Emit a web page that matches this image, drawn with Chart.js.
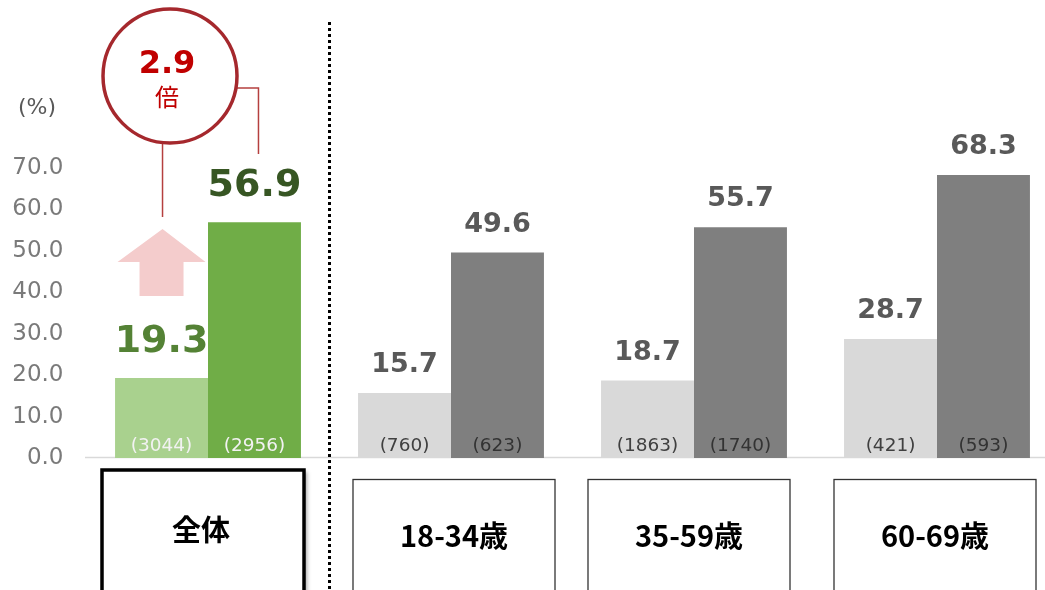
<!DOCTYPE html>
<html><head><meta charset="utf-8">
<script src="https://cdn.jsdelivr.net/npm/chart.js@4"></script>
<style>
html,body{margin:0;padding:0;background:#fff;overflow:hidden;width:1045px;height:590px}
#wrap{width:1045px;height:590px;overflow:hidden;position:relative}
canvas{display:block}
</style></head><body>
<div id="wrap"><canvas id="c" width="1060" height="590"></canvas></div>
<script>
const categories = ['全体', '18-34歳', '35-59歳', '60-69歳'];
const lowValues  = [19.3, 15.7, 18.7, 28.7];
const highValues = [56.9, 49.6, 55.7, 68.3];
const lowCounts  = ['(3044)', '(760)', '(1863)', '(421)'];
const highCounts = ['(2956)', '(623)', '(1740)', '(593)'];
const ratioText = '2.9';
const ratioUnit = '倍';
const yUnit = '(%)';

const lowColors  = ['#a9d18e', '#d9d9d9', '#d9d9d9', '#d9d9d9'];
const highColors = ['#70ad47', '#7f7f7f', '#7f7f7f', '#7f7f7f'];
const lowLabelColors  = ['#548235', '#595959', '#595959', '#595959'];
const highLabelColors = ['#375623', '#595959', '#595959', '#595959'];
const countColors = ['#f2f2f2', '#404040', '#333333', '#333333'];

const deco = {
  id: 'deco',
  beforeDatasetsDraw(chart) {
    const ctx = chart.ctx;
    const y0 = chart.scales.y.getPixelForValue(0);
    ctx.save();
    ctx.strokeStyle = '#d9d9d9';
    ctx.lineWidth = 1.5;
    ctx.beginPath();
    ctx.moveTo(85, y0 - 0.5);
    ctx.lineTo(1060, y0 - 0.5);
    ctx.stroke();
    ctx.restore();
  },
  afterDraw(chart) {
    const ctx = chart.ctx;
    const xs = chart.scales.x;
    const m0 = chart.getDatasetMeta(0).data;
    const m1 = chart.getDatasetMeta(1).data;
    ctx.save();
    ctx.textAlign = 'center';
    ctx.textBaseline = 'alphabetic';
    // value labels
    categories.forEach((c, i) => {
      const b0 = m0[i], b1 = m1[i];
      const big = i === 0;
      ctx.font = big ? 'bold 38px "DejaVu Sans"' : 'bold 27px "DejaVu Sans"';
      const gap = big ? 26 : 21;
      ctx.fillStyle = lowLabelColors[i];
      ctx.fillText(lowValues[i].toFixed(1), b0.x, b0.y - gap);
      ctx.fillStyle = highLabelColors[i];
      ctx.fillText(highValues[i].toFixed(1), b1.x, b1.y - gap);
      // counts
      ctx.font = '18.5px "DejaVu Sans"';
      const by = chart.scales.y.getPixelForValue(0) - 7;
      ctx.fillStyle = i === 0 ? countColors[0] : countColors[1];
      ctx.fillText(lowCounts[i], b0.x, by);
      ctx.fillStyle = i === 0 ? countColors[0] : countColors[2];
      ctx.fillText(highCounts[i], b1.x, by);
    });
    // dotted separator
    const sepX = (xs.getPixelForValue(0) + xs.getPixelForValue(1)) / 2;
    ctx.strokeStyle = '#000';
    ctx.lineWidth = 3;
    ctx.setLineDash([3, 3]);
    ctx.beginPath();
    ctx.moveTo(sepX, 22);
    ctx.lineTo(sepX, 590);
    ctx.stroke();
    ctx.setLineDash([]);
    // category boxes
    const boxShift = [-5, 3, -5, -2];
    categories.forEach((c, i) => {
      const cx = xs.getPixelForValue(i) + boxShift[i];
      const w = 202;
      if (i === 0) {
        ctx.save();
        ctx.shadowColor = 'rgba(0,0,0,0.35)';
        ctx.shadowBlur = 4;
        ctx.shadowOffsetX = 3;
        ctx.shadowOffsetY = 2;
        ctx.fillStyle = '#fff';
        ctx.fillRect(cx - w / 2, 470, w, 140);
        ctx.restore();
        ctx.strokeStyle = '#000';
        ctx.lineWidth = 3.5;
        ctx.strokeRect(cx - w / 2, 470, w, 140);
        ctx.fillStyle = '#000';
        ctx.font = 'bold 29px "Noto Sans CJK JP"';
        ctx.textBaseline = 'middle';
        ctx.fillText(c, cx - 2, 530);
      } else {
        ctx.strokeStyle = '#333';
        ctx.lineWidth = 1.3;
        ctx.strokeRect(cx - w / 2, 479.5, w, 140);
        ctx.fillStyle = '#000';
        ctx.font = 'bold 29px "Noto Sans CJK JP"';
        ctx.textBaseline = 'middle';
        ctx.fillText(c, cx, 536);
      }
      ctx.textBaseline = 'alphabetic';
    });
    // y unit
    ctx.fillStyle = '#595959';
    ctx.font = '22px "DejaVu Sans"';
    ctx.textBaseline = 'middle';
    ctx.fillText(yUnit, 37, 108);
    // annotation: arrow
    const ax = m0[0].x + 1;
    ctx.fillStyle = '#f4cccc';
    ctx.beginPath();
    ctx.moveTo(ax, 229);
    ctx.lineTo(ax + 43, 262);
    ctx.lineTo(ax + 21, 262);
    ctx.lineTo(ax + 21, 296);
    ctx.lineTo(ax - 23, 296);
    ctx.lineTo(ax - 23, 262);
    ctx.lineTo(ax - 45, 262);
    ctx.closePath();
    ctx.fill();
    // connector lines
    const ccx = 170, ccy = 76, r = 67;
    ctx.strokeStyle = '#b5403f';
    ctx.lineWidth = 1.5;
    ctx.beginPath();
    ctx.moveTo(ax, ccy + r);
    ctx.lineTo(ax, 217);
    ctx.stroke();
    const rx = m1[0].x + 4;
    ctx.beginPath();
    ctx.moveTo(ccx + r - 1, 88);
    ctx.lineTo(rx, 88);
    ctx.lineTo(rx, 154);
    ctx.stroke();
    // circle
    ctx.fillStyle = '#fff';
    ctx.strokeStyle = '#a5282d';
    ctx.lineWidth = 3.5;
    ctx.beginPath();
    ctx.arc(ccx, ccy, r, 0, Math.PI * 2);
    ctx.fill();
    ctx.stroke();
    ctx.fillStyle = '#c00000';
    ctx.font = 'bold 32px "DejaVu Sans"';
    ctx.textBaseline = 'alphabetic';
    ctx.fillText(ratioText, 167, 73);
    ctx.font = '24px "Noto Sans CJK JP"';
    ctx.textBaseline = 'middle';
    ctx.fillText(ratioUnit, 167, 97);
    ctx.restore();
  }
};

new Chart(document.getElementById('c'), {
  type: 'bar',
  data: {
    labels: categories,
    datasets: [
      { data: lowValues, backgroundColor: lowColors, borderWidth: 0 },
      { data: highValues, backgroundColor: highColors, borderWidth: 0 }
    ]
  },
  options: {
    responsive: false,
    animation: false,
    layout: { padding: { top: 168, bottom: 132, left: 0, right: 1.5 } },
    datasets: { bar: { categoryPercentage: 0.765, barPercentage: 1.0 } },
    plugins: { legend: { display: false }, tooltip: { enabled: false } },
    scales: {
      x: { display: false },
      y: {
        min: 0, max: 70,
        afterFit(s) { s.width = 86.5; },
        grid: { display: false, drawTicks: false },
        border: { display: false },
        ticks: {
          stepSize: 10,
          padding: 23,
          color: '#7a7a7a',
          font: { family: 'DejaVu Sans', size: 23 },
          callback: v => Number(v).toFixed(1)
        }
      }
    }
  },
  plugins: [deco]
});
</script>
</body></html>
